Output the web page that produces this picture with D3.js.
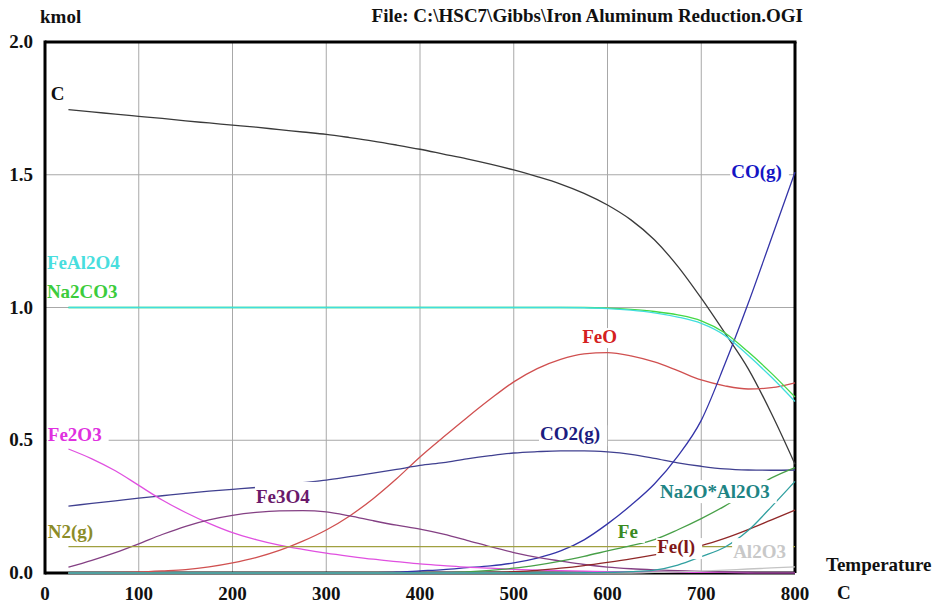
<!DOCTYPE html>
<html>
<head>
<meta charset="utf-8">
<script src="https://cdn.jsdelivr.net/npm/d3@7"></script>
<style>
  body { margin: 0; background: #fff; }
  text { font-family: "Liberation Serif", "Times New Roman", serif; font-weight: bold; }
</style>
</head>
<body>
<svg id="chart" width="935" height="605"></svg>
<script>
// temperatures (C) the HSC equilibrium was read at
const temps = [25,50,75,100,125,150,175,200,225,250,275,300,325,350,375,400,
               425,450,475,500,525,550,575,600,625,650,675,700,725,750,775,800];

// kmol of each species
const cKmol      = [1.745,1.737,1.728,1.72,1.712,1.703,1.695,1.687,1.679,1.67,1.661,1.652,1.64,1.627,1.612,1.596,
                    1.578,1.56,1.54,1.518,1.493,1.465,1.43,1.386,1.33,1.255,1.155,1.035,0.905,0.77,0.6,0.41];
const coKmol     = [0,0,0,0,0,0,0,0,0,0,0,0,0,0.001,0.003,0.008,
                    0.013,0.02,0.027,0.038,0.056,0.083,0.125,0.185,0.255,0.335,0.44,0.575,0.785,1.015,1.262,1.51];
const feal2o4    = [1,1,1,1,1,1,1,1,1,1,1,1,1,1,1,1,
                    1,1,1,1,1,1,0.999,0.996,0.99,0.98,0.964,0.94,0.895,0.82,0.737,0.646];
const na2co3     = [1,1,1,1,1,1,1,1,1,1,1,1,1,1,1,1,
                    1,1,1,1,1,1,1,0.998,0.993,0.985,0.972,0.95,0.905,0.833,0.752,0.663];
const feoKmol    = [0,0.001,0.002,0.004,0.008,0.013,0.023,0.038,0.058,0.085,0.12,0.162,0.215,0.28,0.355,0.437,
                    0.512,0.585,0.655,0.72,0.77,0.805,0.825,0.83,0.818,0.795,0.762,0.727,0.705,0.693,0.698,0.716];
const co2Kmol    = [0.252,0.262,0.272,0.282,0.291,0.3,0.308,0.315,0.322,0.33,0.34,0.35,0.363,0.376,0.39,0.405,
                    0.416,0.43,0.442,0.452,0.457,0.46,0.46,0.456,0.447,0.432,0.415,0.402,0.392,0.388,0.387,0.388];
const fe2o3      = [0.467,0.43,0.385,0.33,0.275,0.228,0.187,0.152,0.126,0.105,0.089,0.075,0.063,0.052,0.043,0.034,
                    0.028,0.022,0.018,0.014,0.011,0.009,0.007,0.005,0.004,0.003,0.003,0.002,0.002,0.001,0.001,0.001];
const fe3o4      = [0.022,0.048,0.077,0.11,0.145,0.176,0.2,0.217,0.228,0.234,0.235,0.23,0.215,0.197,0.18,0.165,
                    0.146,0.123,0.099,0.077,0.059,0.045,0.032,0.022,0.016,0.012,0.009,0.006,0.004,0.003,0.002,0.002];
const n2Kmol     = [0.099,0.099,0.099,0.099,0.099,0.099,0.099,0.099,0.099,0.099,0.099,0.099,0.099,0.099,0.099,0.099,
                    0.099,0.099,0.099,0.099,0.099,0.099,0.099,0.099,0.099,0.099,0.099,0.099,0.099,0.099,0.099,0.099];
const feKmol     = [0,0,0,0,0,0,0,0,0,0,0,0,0,0,0,0,
                    0,0.004,0.01,0.018,0.03,0.045,0.063,0.083,0.103,0.126,0.163,0.205,0.252,0.305,0.358,0.397];
const feLiq      = [0,0,0,0,0,0,0,0,0,0,0,0,0,0,0,0,
                    0,0,0.002,0.005,0.01,0.018,0.028,0.04,0.053,0.068,0.085,0.103,0.13,0.163,0.2,0.237];
const na2oal2o3  = [0,0,0,0,0,0,0,0,0,0,0,0,0,0,0,0,
                    0,0,0,0,0,0,0.001,0.002,0.005,0.011,0.03,0.062,0.097,0.16,0.25,0.345];
const al2o3      = [0,0,0,0,0,0,0,0,0,0,0,0,0,0,0,0,
                    0,0,0,0,0,0,0,0,0,0.002,0.004,0.007,0.011,0.015,0.019,0.023];

const xTicks = [0,100,200,300,400,500,600,700,800];
const yTicks = [0,0.5,1.0,1.5,2.0];

// species name, line colour, label colour, label spot (temperature, kmol), extra white above label
const species = [
  { name: "C",          values: cKmol,     line: "#3a3a3a", text: "#111111", at: [6, 1.78],    lift: 0 },
  { name: "FeO",        values: feoKmol,   line: "#d05050", text: "#d42020", at: [573, 0.866], lift: 0 },
  { name: "CO2(g)",     values: co2Kmol,   line: "#404090", text: "#1c1c80", at: [528, 0.5],   lift: 0 },
  { name: "CO(g)",      values: coKmol,    line: "#3434a8", text: "#1414c4", at: [732, 1.488], lift: 0 },
  { name: "Fe2O3",      values: fe2o3,     line: "#e050e0", text: "#e030e0", at: [3, 0.497],   lift: 0 },
  { name: "Fe3O4",      values: fe3o4,     line: "#844084", text: "#6a1a6a", at: [225, 0.264], lift: 6 },
  { name: "N2(g)",      values: n2Kmol,    line: "#a0a040", text: "#8c8c28", at: [3, 0.132],   lift: 0 },
  { name: "Fe",         values: feKmol,    line: "#48a048", text: "#3a8a22", at: [611, 0.132], lift: 0 },
  { name: "Fe(l)",      values: feLiq,     line: "#902828", text: "#801818", at: [653, 0.075], lift: 0 },
  { name: "Al2O3",      values: al2o3,     line: "#c4c4c4", text: "#c8c8c8", at: [734, 0.056], lift: 5 },
  { name: "Na2O*Al2O3", values: na2oal2o3, line: "#30a0a0", text: "#208484", at: [656, 0.282], lift: 3 },
  { name: "Na2CO3",     values: na2co3,    line: "#44d844", text: "#3ccc3c", at: [2, 1.036],   lift: 0 },
  { name: "FeAl2O4",    values: feal2o4,   line: "#40dede", text: "#48dede", at: [2, 1.145],   lift: 0 }
];

const svg = d3.select("#chart");
const plotL = 45, plotR = 795, plotT = 42, plotB = 573;

let x = d3.scaleLinear().domain([0, 800]).range([plotL, plotR]);
let y = d3.scaleLinear().domain([0, 2]).range([plotB, plotT]);

// grid
svg.append("g").selectAll("line")
  .data(xTicks.slice(1, -1))
  .enter().append("line")
  .attr("x1", d => x(d)).attr("x2", d => x(d))
  .attr("y1", plotT).attr("y2", plotB)
  .attr("stroke", "#a8a8a8").attr("stroke-width", 1);
svg.append("g").selectAll("line")
  .data(yTicks.slice(1, -1))
  .enter().append("line")
  .attr("x1", plotL).attr("x2", plotR)
  .attr("y1", d => y(d)).attr("y2", d => y(d))
  .attr("stroke", "#a8a8a8").attr("stroke-width", 1);

// right and bottom frame go under the labels
svg.append("line").attr("x1", plotR).attr("x2", plotR).attr("y1", plotT).attr("y2", plotB)
  .attr("stroke", "#000").attr("stroke-width", 3);
svg.append("line").attr("x1", plotL).attr("x2", plotR).attr("y1", plotB).attr("y2", plotB)
  .attr("stroke", "#000").attr("stroke-width", 3);

let line = d3.line()
  .x(d => x(d[0]))
  .y(d => y(d[1]))
  .curve(d3.curveMonotoneX);

svg.append("g").selectAll("path")
  .data(species)
  .enter().append("path")
  .attr("d", s => line(temps.map((t, i) => [t, s.values[i]])))
  .attr("fill", "none")
  .attr("stroke", s => s.line)
  .attr("stroke-width", 1.3);

// labels sit on white boxes, like HSC draws them
let labels = svg.append("g").selectAll("g")
  .data(species)
  .enter().append("g");
labels.append("rect").attr("fill", "#fff");
labels.append("text")
  .attr("x", s => x(s.at[0]))
  .attr("y", s => y(s.at[1]))
  .attr("font-size", 19)
  .attr("fill", s => s.text)
  .text(s => s.name);
labels.each(function (s) {
  let g = d3.select(this);
  let b = g.select("text").node().getBBox();
  g.select("rect")
    .attr("x", b.x - 1).attr("y", b.y + 2 - s.lift)
    .attr("width", b.width + 8).attr("height", b.height - 1 + s.lift);
});

// left and top frame
svg.append("line").attr("x1", plotL).attr("x2", plotL).attr("y1", plotT - 1.5).attr("y2", plotB + 1.5)
  .attr("stroke", "#000").attr("stroke-width", 3);
svg.append("line").attr("x1", plotL).attr("x2", plotR + 1.5).attr("y1", plotT).attr("y2", plotT)
  .attr("stroke", "#000").attr("stroke-width", 3);

// tick labels
svg.append("g").selectAll("text")
  .data(yTicks)
  .enter().append("text")
  .attr("x", 33).attr("y", d => y(d) + 6)
  .attr("text-anchor", "end").attr("font-size", 19).attr("fill", "#111")
  .text(d => d.toFixed(1));
svg.append("g").selectAll("text")
  .data(xTicks)
  .enter().append("text")
  .attr("x", d => x(d)).attr("y", 600)
  .attr("text-anchor", "middle").attr("font-size", 19).attr("fill", "#111")
  .text(d => d);

svg.append("text").attr("x", 40).attr("y", 23).attr("font-size", 19).attr("fill", "#111").text("kmol");
svg.append("text").attr("x", 803).attr("y", 22).attr("font-size", 19).attr("fill", "#111")
  .attr("text-anchor", "end").text("File: C:\\HSC7\\Gibbs\\Iron Aluminum Reduction.OGI");
svg.append("text").attr("x", 826).attr("y", 571).attr("font-size", 19).attr("fill", "#111").text("Temperature");
svg.append("text").attr("x", 837).attr("y", 599).attr("font-size", 19).attr("fill", "#111").text("C");
</script>
</body>
</html>
